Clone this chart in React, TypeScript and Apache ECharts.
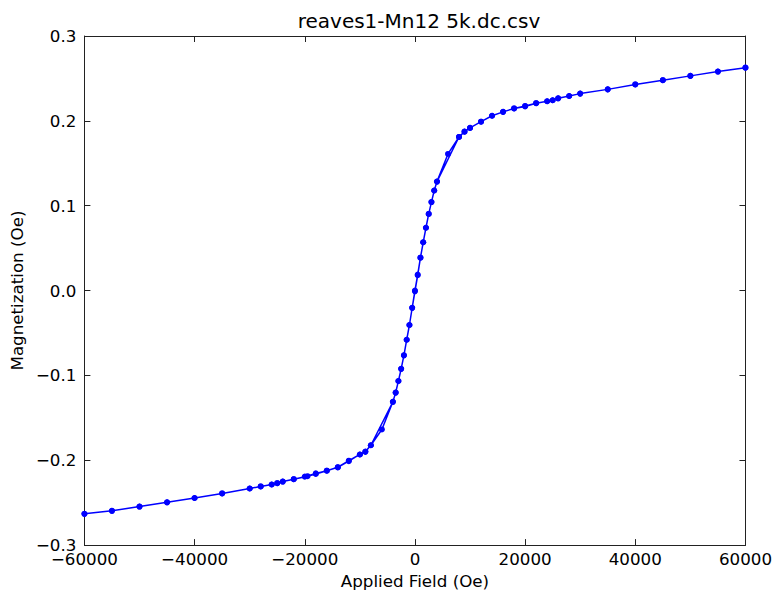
import React, { useEffect, useRef } from "react";
import * as echarts from "echarts";

// Descending branch (field swept from +60000 Oe to -60000 Oe)
const fieldDown = [
  60000, 55000, 50000, 45000, 40000, 35000, 30000, 28000, 26000, 25000, 24000, 22000,
  20000, 18000, 16000, 14000, 12000, 10000, 9000, 8000, 6000, 4000, 3500, 3000, 2500, 2000,
  1500, 1000, 500, 0, -500, -1000, -1500, -2000, -2500, -3000, -3500, -4000, -8000,
  -9000, -10000, -12000, -14000, -16000, -18000, -20000, -22000, -24000, -25000,
  -26000, -28000, -30000, -35000, -40000, -45000, -50000, -55000, -60000,
];
const magDown = [
  0.2627, 0.2581, 0.253, 0.2479, 0.2429, 0.2371, 0.2321, 0.2293, 0.2266, 0.2243, 0.2231, 0.2208,
  0.217, 0.2146, 0.2106, 0.206, 0.199, 0.1917, 0.1873, 0.181, 0.161, 0.1284, 0.1179, 0.1043, 0.0903, 0.074,
  0.0569, 0.0387, 0.018, -0.0009, -0.0204, -0.0406, -0.058, -0.0763, -0.0923, -0.1066, -0.1203, -0.1311, -0.1823,
  -0.1901, -0.1932, -0.2005, -0.2082, -0.2123, -0.2155, -0.2193, -0.2223, -0.2251, -0.227,
  -0.2286, -0.2309, -0.2333, -0.2391, -0.2445, -0.2496, -0.2546, -0.2596, -0.2631,
];

// Ascending branch (field swept from -60000 Oe back to +60000 Oe)
const fieldUp = [
  -60000, -55000, -50000, -45000, -40000, -35000, -30000, -28000, -26000, -25000, -24000,
  -22000, -19500, -18000, -16000, -14000, -12000, -10000, -9000, -8000, -6000, -4000, -3500, -3000,
  -2500, -2000, -1500, -1000, -500, 0, 500, 1000, 1500, 2000, 2500, 3000, 3500, 4000, 8000,
  9000, 10000, 12000, 14000, 16000, 18000, 20000, 22000, 24000, 25000, 26000, 28000, 30000,
  35000, 40000, 45000, 50000, 55000, 60000,
];
const magUp = [
  -0.2631, -0.2596, -0.2546, -0.2496, -0.2445, -0.2391, -0.2333, -0.2309, -0.2286, -0.227, -0.2251,
  -0.2223, -0.2188, -0.2162, -0.2123, -0.2084, -0.201, -0.1932, -0.1897, -0.1823, -0.1637, -0.1311, -0.1203, -0.1066,
  -0.0923, -0.0763, -0.058, -0.0406, -0.0204, 0.0, 0.0189, 0.0387, 0.0569, 0.074, 0.0903, 0.1043, 0.1179, 0.1284, 0.181,
  0.1873, 0.1917, 0.199, 0.206, 0.2106, 0.2146, 0.2176, 0.2208, 0.2231, 0.2243, 0.2266, 0.2293, 0.2321,
  0.2371, 0.2429, 0.2479, 0.253, 0.2581, 0.2627,
];

const xTicks = [-60000, -40000, -20000, 0, 20000, 40000, 60000];
const yTicks = [-0.3, -0.2, -0.1, 0.0, 0.1, 0.2, 0.3];

const FONT = "DejaVu Sans";
const FRAME = "#222222";

const fmtX = (v: number) => String(Math.round(v)).replace("-", "\u2212");
const fmtY = (v: number) => {
  const r = Math.round(v * 10) / 10;
  return (r === 0 ? "0.0" : r.toFixed(1)).replace("-", "\u2212");
};

export default function App() {
  const ref = useRef<HTMLDivElement>(null);
  useEffect(() => {
    if (!ref.current) return;
    const chart = echarts.init(ref.current, undefined, { renderer: "svg" });
    const data = [
      ...fieldDown.map((f, i) => [f, magDown[i]]),
      ...fieldUp.map((f, i) => [f, magUp[i]]),
    ];
    const xBase = {
      type: "value" as const,
      min: xTicks[0],
      max: xTicks[xTicks.length - 1],
      interval: 20000,
      splitLine: { show: false },
      axisLine: { show: true, onZero: false, lineStyle: { color: FRAME, width: 1 } },
      axisTick: { show: true, inside: true, length: 6, lineStyle: { color: FRAME } },
    };
    const yBase = {
      type: "value" as const,
      min: yTicks[0],
      max: yTicks[yTicks.length - 1],
      interval: 0.1,
      splitLine: { show: false },
      axisLine: { show: true, onZero: false, lineStyle: { color: FRAME, width: 1 } },
      axisTick: { show: true, inside: true, length: 6, lineStyle: { color: FRAME } },
    };
    chart.setOption({
      animation: false,
      backgroundColor: "#ffffff",
      textStyle: { fontFamily: FONT },
      title: {
        text: "reaves1-Mn12 5k.dc.csv",
        left: 414,
        top: 6,
        textAlign: "center",
        textStyle: { fontFamily: FONT, fontSize: 20, fontWeight: "normal", color: "#000" },
      },
      grid: { left: 82, right: 29, top: 36, bottom: 43, containLabel: false },
      xAxis: [
        {
          ...xBase,
          position: "bottom",
          name: "Applied Field (Oe)",
          nameLocation: "middle",
          nameGap: 26,
          nameTextStyle: { fontFamily: FONT, fontSize: 16.7, color: "#000", verticalAlign: "top" },
          axisLabel: { show: true, margin: 5, fontFamily: FONT, fontSize: 16.7, color: "#000", formatter: fmtX, verticalAlign: "top" },
        },
        {
          ...xBase,
          position: "top",
          axisLabel: { show: false },
        },
      ],
      yAxis: [
        {
          ...yBase,
          position: "left",
          name: "Magnetization (Oe)",
          nameLocation: "middle",
          nameGap: 55,
          nameTextStyle: { fontFamily: FONT, fontSize: 16.7, color: "#000" },
          axisLabel: { show: true, margin: 8, fontFamily: FONT, fontSize: 16.7, color: "#000", formatter: fmtY },
        },
        {
          ...yBase,
          position: "right",
          axisLabel: { show: false },
        },
      ],
      series: [
        {
          type: "line",
          xAxisIndex: 0,
          yAxisIndex: 0,
          data,
          symbol: "circle",
          symbolSize: 6,
          showSymbol: true,
          lineStyle: { color: "#0000ff", width: 1.5 },
          itemStyle: { color: "#0000ff", borderWidth: 0 },
          emphasis: { disabled: true },
        },
      ],
    });
    return () => chart.dispose();
  }, []);
  return (
    <div
      ref={ref}
      style={{ position: "fixed", left: 0, top: 0, width: 775, height: 594, background: "#fff" }}
    />
  );
}
